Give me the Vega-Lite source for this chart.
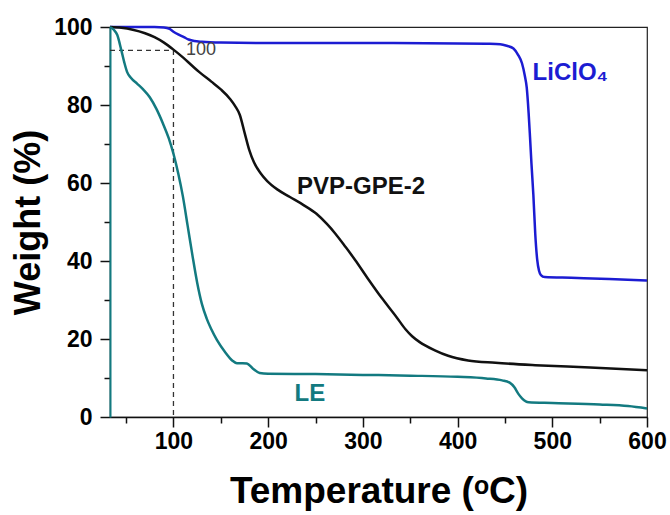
{
  "$schema": "https://vega.github.io/schema/vega-lite/v6.json",
  "width": 537,
  "height": 390,
  "autosize": {"type": "none"},
  "padding": {"left": 110, "top": 27, "right": 23, "bottom": 98},
  "background": "white",
  "config": {
    "view": {"stroke": "#222", "strokeWidth": 1.2},
    "font": "Liberation Sans"
  },
  "datasets": {
    "curves": [
      {"s": "LiClO4", "T": 33, "W": 100}, {"s": "LiClO4", "T": 60, "W": 100}, {"s": "LiClO4", "T": 80, "W": 100},
      {"s": "LiClO4", "T": 90, "W": 99.9}, {"s": "LiClO4", "T": 96, "W": 99.5}, {"s": "LiClO4", "T": 100, "W": 98.8},
      {"s": "LiClO4", "T": 105, "W": 98.1}, {"s": "LiClO4", "T": 111, "W": 97.4}, {"s": "LiClO4", "T": 116, "W": 96.8},
      {"s": "LiClO4", "T": 122, "W": 96.4}, {"s": "LiClO4", "T": 130, "W": 96.2}, {"s": "LiClO4", "T": 150, "W": 96.0},
      {"s": "LiClO4", "T": 200, "W": 95.9}, {"s": "LiClO4", "T": 300, "W": 95.9}, {"s": "LiClO4", "T": 400, "W": 95.8},
      {"s": "LiClO4", "T": 430, "W": 95.7}, {"s": "LiClO4", "T": 445, "W": 95.6}, {"s": "LiClO4", "T": 452, "W": 95.2},
      {"s": "LiClO4", "T": 459, "W": 94.5}, {"s": "LiClO4", "T": 464, "W": 92.8}, {"s": "LiClO4", "T": 468, "W": 90.7},
      {"s": "LiClO4", "T": 471, "W": 87.5}, {"s": "LiClO4", "T": 473, "W": 84.5}, {"s": "LiClO4", "T": 475, "W": 78},
      {"s": "LiClO4", "T": 476.5, "W": 71.7}, {"s": "LiClO4", "T": 478, "W": 65}, {"s": "LiClO4", "T": 480, "W": 57},
      {"s": "LiClO4", "T": 482, "W": 47}, {"s": "LiClO4", "T": 484, "W": 40.5}, {"s": "LiClO4", "T": 486, "W": 37.5},
      {"s": "LiClO4", "T": 488, "W": 36.4}, {"s": "LiClO4", "T": 492, "W": 35.9}, {"s": "LiClO4", "T": 520, "W": 35.7},
      {"s": "LiClO4", "T": 560, "W": 35.4}, {"s": "LiClO4", "T": 600, "W": 35.0},

      {"s": "PVP", "T": 33, "W": 100}, {"s": "PVP", "T": 45, "W": 99.8}, {"s": "PVP", "T": 57, "W": 99.3},
      {"s": "PVP", "T": 70, "W": 98.4}, {"s": "PVP", "T": 80, "W": 97.4}, {"s": "PVP", "T": 90, "W": 96},
      {"s": "PVP", "T": 100, "W": 94.2}, {"s": "PVP", "T": 110, "W": 92.2}, {"s": "PVP", "T": 120, "W": 90},
      {"s": "PVP", "T": 128, "W": 88.3}, {"s": "PVP", "T": 140, "W": 86}, {"s": "PVP", "T": 150, "W": 84},
      {"s": "PVP", "T": 160, "W": 81.5}, {"s": "PVP", "T": 165, "W": 79.8}, {"s": "PVP", "T": 170, "W": 77.5},
      {"s": "PVP", "T": 175, "W": 73}, {"s": "PVP", "T": 180, "W": 68.5}, {"s": "PVP", "T": 185, "W": 65.3},
      {"s": "PVP", "T": 192, "W": 62.5}, {"s": "PVP", "T": 199, "W": 60.5}, {"s": "PVP", "T": 210, "W": 58.3},
      {"s": "PVP", "T": 223, "W": 56.4}, {"s": "PVP", "T": 237, "W": 54.4}, {"s": "PVP", "T": 251, "W": 52.1},
      {"s": "PVP", "T": 262, "W": 49.5}, {"s": "PVP", "T": 271, "W": 47}, {"s": "PVP", "T": 282, "W": 43.5},
      {"s": "PVP", "T": 292, "W": 40.2}, {"s": "PVP", "T": 305, "W": 35.6}, {"s": "PVP", "T": 320, "W": 30.5},
      {"s": "PVP", "T": 335, "W": 25.8}, {"s": "PVP", "T": 345, "W": 22.5}, {"s": "PVP", "T": 352, "W": 20.7},
      {"s": "PVP", "T": 360, "W": 19.2}, {"s": "PVP", "T": 376, "W": 17.1}, {"s": "PVP", "T": 390, "W": 15.7},
      {"s": "PVP", "T": 411, "W": 14.5}, {"s": "PVP", "T": 440, "W": 13.9}, {"s": "PVP", "T": 482, "W": 13.3},
      {"s": "PVP", "T": 540, "W": 12.7}, {"s": "PVP", "T": 600, "W": 12.0},

      {"s": "LE", "T": 33, "W": 100}, {"s": "LE", "T": 37, "W": 99.3}, {"s": "LE", "T": 40.6, "W": 98},
      {"s": "LE", "T": 45, "W": 94}, {"s": "LE", "T": 48, "W": 91}, {"s": "LE", "T": 51, "W": 88.5},
      {"s": "LE", "T": 55, "W": 87}, {"s": "LE", "T": 61.6, "W": 85.5}, {"s": "LE", "T": 68, "W": 84},
      {"s": "LE", "T": 75, "W": 82}, {"s": "LE", "T": 82, "W": 79}, {"s": "LE", "T": 89, "W": 75.2},
      {"s": "LE", "T": 95, "W": 71.5}, {"s": "LE", "T": 100, "W": 67.5}, {"s": "LE", "T": 105, "W": 62.5},
      {"s": "LE", "T": 110, "W": 56.5}, {"s": "LE", "T": 115, "W": 49}, {"s": "LE", "T": 120, "W": 41.5},
      {"s": "LE", "T": 125, "W": 34.5}, {"s": "LE", "T": 130, "W": 29}, {"s": "LE", "T": 135, "W": 25.3},
      {"s": "LE", "T": 140, "W": 22.5}, {"s": "LE", "T": 146, "W": 19.7}, {"s": "LE", "T": 155, "W": 16.5},
      {"s": "LE", "T": 162, "W": 14.5}, {"s": "LE", "T": 167, "W": 13.8}, {"s": "LE", "T": 173, "W": 13.8},
      {"s": "LE", "T": 177.5, "W": 13.7}, {"s": "LE", "T": 184, "W": 12.4}, {"s": "LE", "T": 191, "W": 11.3},
      {"s": "LE", "T": 200, "W": 11.1}, {"s": "LE", "T": 250, "W": 11.0}, {"s": "LE", "T": 300, "W": 10.8},
      {"s": "LE", "T": 350, "W": 10.6}, {"s": "LE", "T": 400, "W": 10.3}, {"s": "LE", "T": 430, "W": 9.9},
      {"s": "LE", "T": 447, "W": 9.4}, {"s": "LE", "T": 455, "W": 8.8}, {"s": "LE", "T": 460, "W": 7.6},
      {"s": "LE", "T": 464, "W": 6.0}, {"s": "LE", "T": 468, "W": 4.8}, {"s": "LE", "T": 472, "W": 4.0},
      {"s": "LE", "T": 475, "W": 3.8}, {"s": "LE", "T": 500, "W": 3.6}, {"s": "LE", "T": 550, "W": 3.2},
      {"s": "LE", "T": 580, "W": 2.8}, {"s": "LE", "T": 600, "W": 2.2}
    ],
    "guide": [
      {"o": 1, "T": 33, "W": 94},
      {"o": 2, "T": 100, "W": 94},
      {"o": 3, "T": 100, "W": 0}
    ],
    "labels": [
      {"s": "LiClO4", "text": "LiClO₄", "T": 519, "W": 88.1},
      {"s": "PVP", "text": "PVP-GPE-2", "T": 298, "W": 59.1},
      {"s": "LE", "text": "LE", "T": 244, "W": 5.8}
    ],
    "note": [
      {"text": "100", "T": 129, "W": 94}
    ]
  },
  "encoding": {
    "x": {
      "field": "T", "type": "quantitative",
      "scale": {"domain": [33, 600], "nice": false, "zero": false},
      "axis": {
        "title": "Temperature (ᵒC)",
        "values": [50, 100, 150, 200, 250, 300, 350, 400, 450, 500, 550, 600],
        "labelExpr": "datum.value % 100 === 0 ? datum.label : ''",
        "tickSize": {"condition": {"test": "datum.value % 100 === 0", "value": 10}, "value": 6},
        "tickColor": "#111", "tickWidth": 1.5,
        "domainColor": "#111", "domainWidth": 1.5,
        "labelFont": "Liberation Sans", "labelFontSize": 23, "labelFontWeight": "bold", "labelColor": "#000",
        "labelPadding": 3, "labelFlush": false,
        "titleFont": "Liberation Sans", "titleFontSize": 37, "titleFontWeight": "bold", "titleColor": "#000",
        "titlePadding": 20, "grid": false
      }
    },
    "y": {
      "field": "W", "type": "quantitative",
      "scale": {"domain": [0, 100], "nice": false},
      "axis": {
        "title": "Weight (%)",
        "values": [0, 10, 20, 30, 40, 50, 60, 70, 80, 90, 100],
        "labelExpr": "datum.value % 20 === 0 ? datum.label : ''",
        "tickSize": {"condition": {"test": "datum.value % 20 === 0", "value": 10}, "value": 6},
        "tickColor": "#111", "tickWidth": 1.5,
        "domainColor": "#137a80", "domainWidth": 2,
        "labelFont": "Liberation Sans", "labelFontSize": 23, "labelFontWeight": "bold", "labelColor": "#000",
        "labelPadding": 8, "labelFlush": false,
        "titleFont": "Liberation Sans", "titleFontSize": 36, "titleFontWeight": "bold", "titleColor": "#000",
        "titlePadding": 6, "grid": false
      }
    }
  },
  "layer": [
    {
      "data": {"name": "guide"},
      "mark": {"type": "line", "color": "#333", "strokeWidth": 1.3, "strokeDash": [5, 4]},
      "encoding": {"order": {"field": "o", "type": "quantitative"}}
    },
    {
      "data": {"name": "curves"},
      "mark": {"type": "line", "strokeWidth": 2.5, "interpolate": "monotone"},
      "encoding": {
        "color": {
          "field": "s", "type": "nominal",
          "scale": {"domain": ["LiClO4", "PVP", "LE"], "range": ["#1c1cd2", "#111111", "#137a80"]},
          "legend": null
        }
      }
    },
    {
      "data": {"name": "labels"},
      "mark": {"type": "text", "font": "Liberation Sans", "fontSize": 24, "fontWeight": "bold", "align": "center", "baseline": "middle"},
      "encoding": {
        "text": {"field": "text"},
        "color": {"field": "s", "type": "nominal", "legend": null}
      }
    },
    {
      "data": {"name": "note"},
      "mark": {"type": "text", "font": "Liberation Sans", "fontSize": 18, "color": "#444", "align": "center", "baseline": "middle"},
      "encoding": {"text": {"field": "text"}}
    }
  ]
}
